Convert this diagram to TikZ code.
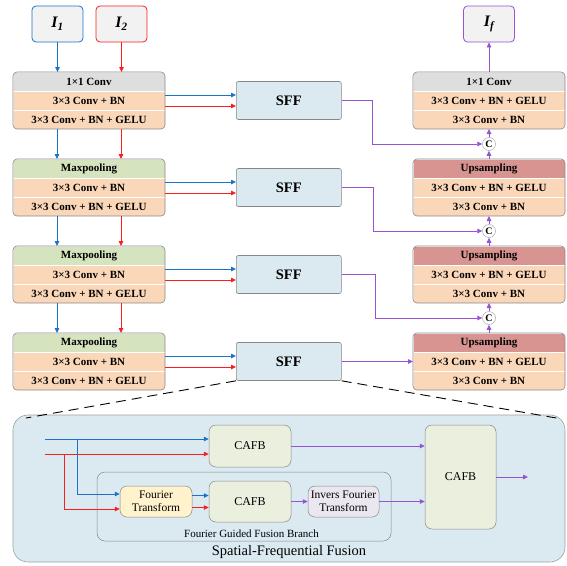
\documentclass[tikz,border=0pt]{standalone}
\usepackage{fontspec}
\setmainfont{Liberation Serif}
\usetikzlibrary{arrows.meta,positioning,calc}
\definecolor{sfBlue}  {RGB}{ 28,114,196}
\definecolor{sfRed}   {RGB}{250, 30, 30}
\definecolor{sfPurple}{RGB}{150, 82,210}
\definecolor{sfFrame} {RGB}{135,135,135}
\definecolor{sfInput} {RGB}{242,242,242}
\definecolor{hdGrey}  {RGB}{222,222,222}
\definecolor{hdGreen} {RGB}{214,227,191}
\definecolor{hdRed}   {RGB}{216,148,144}
\definecolor{rowPeach}{RGB}{250,215,185}
\definecolor{sffBlue} {RGB}{219,234,241}
\definecolor{cafbTint}{RGB}{235,239,222}
\definecolor{ftYellow}{RGB}{255,242,204}
\definecolor{iftLilac}{RGB}{234,231,240}

% one encoder / decoder stack: name, left x, top y, head colour, three texts
\newcommand{\layerstack}[7]{%
  \begin{scope}
    \clip[rounded corners=4pt] (#2,#3) rectangle ++(152,57);
    \node[row,fill=#4,anchor=north west] (#1h) at (#2,#3) {#5};
    \node[row,anchor=north] (#1b) at (#1h.south) {#6};
    \node[row,anchor=north] (#1c) at (#1b.south) {#7};
  \end{scope}
  \draw[sfFrame,line width=0.6pt,rounded corners=4pt]
    (#1h.north west) rectangle (#1c.south east);
}

\begin{document}
\begin{tikzpicture}[
  x=1pt,y=-1pt,
  every node/.style={text=black},
  row/.style={rectangle,fill=rowPeach,draw=white,line width=0.8pt,
    minimum width=152pt,minimum height=19pt,inner sep=0pt,outer sep=0pt,
    font=\fontsize{11}{12}\selectfont\bfseries},
  inbox/.style={rectangle,rounded corners=4pt,fill=sfInput,line width=0.8pt,
    minimum width=51pt,minimum height=36pt,inner sep=0pt,
    font=\fontsize{16}{18}\selectfont\bfseries\itshape},
  sff/.style={rectangle,rounded corners=2pt,fill=sffBlue,draw=sfFrame,
    line width=0.6pt,minimum width=105pt,minimum height=38pt,inner sep=0pt,
    font=\fontsize{14.5}{16}\selectfont\bfseries},
  cat/.style={circle,draw=sfFrame!70,fill=white,line width=0.5pt,
    minimum size=13pt,inner sep=0pt,font=\fontsize{10}{10}\selectfont\bfseries},
  inner/.style={rectangle,rounded corners=7pt,draw=sfFrame,line width=0.5pt,
    inner sep=0pt,align=center,font=\fontsize{11.5}{13}\selectfont},
  flow/.style={-{Triangle[length=5pt,width=4.5pt]},line width=0.8pt},
  zoomline/.style={black,line width=0.9pt,dash pattern=on 10pt off 6pt}
]
\useasboundingbox (0,0) rectangle (567,565);

% inputs and output
\node[inbox,draw=sfBlue]   (in1) at (57.5,24) {I\textsubscript{1}};
\node[inbox,draw=sfRed]    (in2) at (121.5,24) {I\textsubscript{2}};
\node[inbox,draw=sfPurple] (fused) at (489,24) {I\textsubscript{f}};

% encoder
\layerstack{encA}{13}{72}{hdGrey}{1×1 Conv}{3×3 Conv + BN}{3×3 Conv + BN + GELU}
\layerstack{encB}{13}{159}{hdGreen}{Maxpooling}{3×3 Conv + BN}{3×3 Conv + BN + GELU}
\layerstack{encC}{13}{246}{hdGreen}{Maxpooling}{3×3 Conv + BN}{3×3 Conv + BN + GELU}
\layerstack{encD}{13}{333}{hdGreen}{Maxpooling}{3×3 Conv + BN}{3×3 Conv + BN + GELU}

% decoder
\layerstack{decA}{413}{72}{hdGrey}{1×1 Conv}{3×3 Conv + BN + GELU}{3×3 Conv + BN}
\layerstack{decB}{413}{159}{hdRed}{Upsampling}{3×3 Conv + BN + GELU}{3×3 Conv + BN}
\layerstack{decC}{413}{246}{hdRed}{Upsampling}{3×3 Conv + BN + GELU}{3×3 Conv + BN}
\layerstack{decD}{413}{333}{hdRed}{Upsampling}{3×3 Conv + BN + GELU}{3×3 Conv + BN}

\draw[flow,sfBlue] (in1) -- (in1 |- encAh.north);
\draw[flow,sfRed]  (in2) -- (in2 |- encAh.north);
\foreach \up/\lo in {encA/encB,encB/encC,encC/encD}{
  \draw[flow,sfBlue] ([xshift=-32pt]\up c.south) -- ([xshift=-32pt]\lo h.north);
  \draw[flow,sfRed]  ([xshift=32pt]\up c.south) -- ([xshift=32pt]\lo h.north);
}

% SFF blocks
\foreach \s in {A,B,C,D}{
  \node[sff,right=71pt of enc\s b] (sff\s) {SFF};
  \draw[flow,sfBlue] ([yshift=5.5pt]enc\s b.east) -- ([yshift=5.5pt]sff\s.west);
  \draw[flow,sfRed]  ([yshift=-5.5pt]enc\s b.east) -- ([yshift=-5.5pt]sff\s.west);
}

% concatenations
\node[cat] (catA) at ($(decAc.south)!0.5!(decBh.north)$) {C};
\node[cat] (catB) at ($(decBc.south)!0.5!(decCh.north)$) {C};
\node[cat] (catC) at ($(decCc.south)!0.5!(decDh.north)$) {C};

\draw[flow,sfPurple] (decAh.north) -- (fused);
\draw[flow,sfPurple] (catA) -- (decAc.south);
\draw[flow,sfPurple] (decBh.north) -- (catA);
\draw[flow,sfPurple] (catB) -- (decBc.south);
\draw[flow,sfPurple] (decCh.north) -- (catB);
\draw[flow,sfPurple] (catC) -- (decCc.south);
\draw[flow,sfPurple] (decDh.north) -- (catC);

\draw[flow,sfPurple] (sffA.east) -- ++(31,0) |- (catA.west);
\draw[flow,sfPurple] (sffB.east) -- ++(32,0) |- (catB.west);
\draw[flow,sfPurple] (sffC.east) -- ++(34,0) |- (catC.west);
\draw[flow,sfPurple] (sffD.east) -- (decDb.west);

% spatial-frequential fusion detail
\node[rectangle,rounded corners=15pt,fill=sffBlue,draw=sfFrame!80,line width=0.6pt,
  minimum width=552pt,minimum height=147pt] (sfpanel) at (289,488.5) {};
\coordinate (zoomL) at (26,418);
\coordinate (zoomR) at (562,419);
\draw[zoomline] (sffD.south west) -- (zoomL);
\draw[zoomline] (sffD.south east) -- (zoomR);

\node[inner,fill=none,rounded corners=8pt,minimum width=294pt,minimum height=69pt]
  (branch) at (244,506.5) {};
\node[font=\fontsize{11}{12}\selectfont] (branchlbl) at (251.5,534)
  {Fourier Guided Fusion Branch};
\node[font=\fontsize{14.5}{16}\selectfont] (sftitle) at ([yshift=10pt]sfpanel.south)
  {Spatial-Frequential Fusion};

\node[inner,fill=cafbTint,minimum width=82pt,minimum height=42pt,
  font=\fontsize{12}{14}\selectfont] (cafbA) at (250,446) {CAFB};
\node[inner,fill=cafbTint,minimum width=82pt,minimum height=41pt,
  font=\fontsize{12}{14}\selectfont] (cafbB) at (250,501.5) {CAFB};
\node[inner,fill=cafbTint,minimum width=71pt,minimum height=104pt,
  font=\fontsize{12}{14}\selectfont] (cafbC) at (460.5,477) {CAFB};
\node[inner,fill=ftYellow,minimum width=72pt,minimum height=31pt]
  (fourier) at (156,501.5) {Fourier\\Transform};
\node[inner,fill=iftLilac,minimum width=71pt,minimum height=31pt]
  (invfourier) at (343.5,501.5) {Invers Fourier\\Transform};

\coordinate (blueIn)  at (45,439);
\coordinate (redIn)   at (45,454);
\coordinate (blueTap) at (77,439);
\coordinate (redTap)  at (64,454);
\coordinate (sfOut)   at (528,477);

\draw[flow,sfBlue] (blueIn) -- (blueIn -| cafbA.west);
\draw[flow,sfRed]  (redIn) -- (redIn -| cafbA.west);
\draw[flow,sfBlue] (blueTap) |- ([yshift=7.5pt]fourier.west);
\draw[flow,sfRed]  (redTap) |- ([yshift=-7.5pt]fourier.west);
\draw[flow,sfBlue] ([yshift=6pt]fourier.east) -- ([yshift=6pt]cafbB.west);
\draw[flow,sfRed]  ([yshift=-6pt]fourier.east) -- ([yshift=-6pt]cafbB.west);
\draw[flow,sfPurple] (cafbB) -- (invfourier);
\draw[flow,sfPurple] (invfourier.east) -- (invfourier.east -| cafbC.west);
\draw[flow,sfPurple] (cafbA.east) -- (cafbA.east -| cafbC.west);
\draw[flow,sfPurple] (cafbC.east) -- (sfOut);
\end{tikzpicture}
\end{document}
